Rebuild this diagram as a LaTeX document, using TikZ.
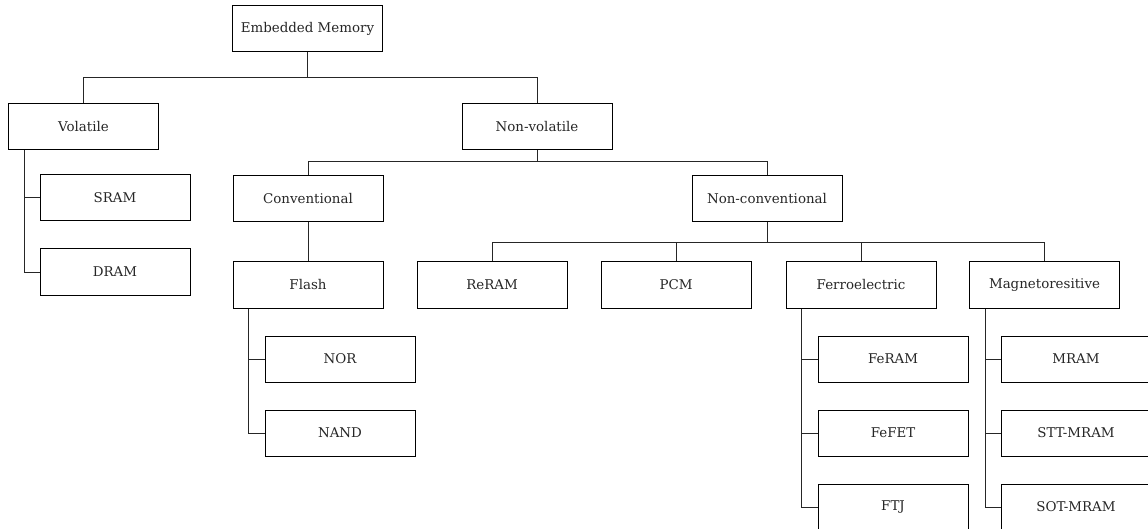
\documentclass[tikz,border=0pt]{standalone}
\usepackage{fontspec}
\setmainfont{DejaVu Serif}
\begin{document}
\begin{tikzpicture}[x=1pt,y=-1pt,
  box/.style={draw=black, line width=1pt, minimum width=150pt, minimum height=46pt,
    inner sep=0pt, font=\fontsize{13.4}{15}\selectfont, text=black!85},
  link/.style={draw=black!85, line width=0.9pt}]
\useasboundingbox (0,0) rectangle (1148,529);
\begin{scope}
\clip (0,0) rectangle (1148,529);
% level 0 and 1
\node[box] (emb) at (307.5,29) {Embedded Memory};
\node[box] (vol) at (83.5,126.5) {Volatile};
\node[box] (nonvol) at (537,126.5) {Non-volatile};
% volatile children
\node[box] (sram) at (115,197.5) {SRAM};
\node[box] (dram) at (115,272) {DRAM};
% non-volatile children
\node[box] (conv) at (308,199) {Conventional};
\node[box] (nonconv) at (767,199) {Non-conventional};
\node[box] (flash) at (308,285) {Flash};
\node[box] (nor) at (340,359) {NOR};
\node[box] (nand) at (340,433) {NAND};
\node[box] (reram) at (492,285) {ReRAM};
\node[box] (pcm) at (676,285) {PCM};
\node[box] (ferro) at (861,285) {Ferroelectric};
\node[box] (magn) at (1044.5,285) {Magnetoresitive};
\node[box] (feram) at (893,359) {FeRAM};
\node[box] (fefet) at (893,433) {FeFET};
\node[box] (ftj) at (893,507) {FTJ};
\node[box] (mram) at (1076,359) {MRAM};
\node[box] (stt) at (1076,433) {STT-MRAM};
\node[box] (sot) at (1076,507) {SOT-MRAM};
% tree connectors
\draw[link] (emb.south) -- (emb.south |- 0,77) -| (vol.north);
\draw[link] (emb.south) -- (emb.south |- 0,77) -| (nonvol.north);
\draw[link] (nonvol.south) -- (nonvol.south |- 0,161) -| (conv.north);
\draw[link] (nonvol.south) -- (nonvol.south |- 0,161) -| (nonconv.north);
\draw[link] (conv.south) -- (flash.north);
\foreach \t in {reram,pcm,ferro,magn}
  \draw[link] (nonconv.south) -- (nonconv.south |- 0,242) -| (\t.north);
% side spines
\draw[link] ([xshift=16pt]vol.south west) |- (sram.west);
\draw[link] ([xshift=16pt]vol.south west) |- (dram.west);
\draw[link] ([xshift=16pt]flash.south west) |- (nor.west);
\draw[link] ([xshift=16pt]flash.south west) |- (nand.west);
\foreach \t in {feram,fefet,ftj}
  \draw[link] ([xshift=16pt]ferro.south west) |- (\t.west);
\foreach \t in {mram,stt,sot}
  \draw[link] ([xshift=16pt]magn.south west) |- (\t.west);
\end{scope}
\end{tikzpicture}
\end{document}
